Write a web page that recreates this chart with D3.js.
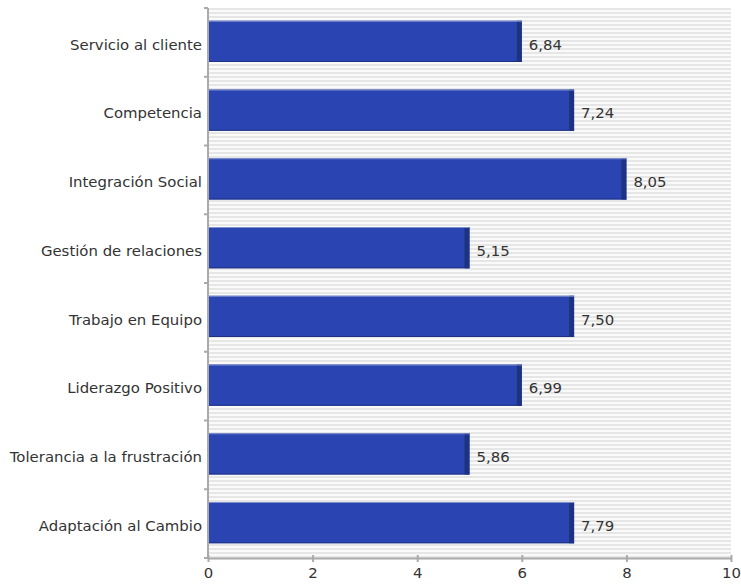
<!DOCTYPE html>
<html>
<head>
<meta charset="utf-8">
<script src="https://cdn.jsdelivr.net/npm/d3@7/dist/d3.min.js"></script>
<style>
  body { margin: 0; background: #fff; }
  text { font-family: "DejaVu Sans", sans-serif; fill: #333; }
</style>
</head>
<body>
<script>
var categories = ["Servicio al cliente", "Competencia", "Integración Social", "Gestión de relaciones",
  "Trabajo en Equipo", "Liderazgo Positivo", "Tolerancia a la frustración", "Adaptación al Cambio"];
// values shown as labels
var scores = [6.84, 7.24, 8.05, 5.15, 7.50, 6.99, 5.86, 7.79];
// bar lengths as drawn in the picture
var barValues = [6, 7, 8, 5, 7, 6, 5, 7];
var xTicks = [0, 2, 4, 6, 8, 10];

var svgWidth = 741, svgHeight = 586;
var margin = {top: 8, right: 10, bottom: 28, left: 208};
var width = svgWidth - margin.left - margin.right;
var height = svgHeight - margin.top - margin.bottom;
var fontSize = "14.9px";

var svg = d3.select("body").append("svg")
  .attr("width", svgWidth)
  .attr("height", svgHeight);

var defs = svg.append("defs");
var pat = defs.append("pattern")
  .attr("id", "stripes")
  .attr("width", 4).attr("height", 4)
  .attr("patternUnits", "userSpaceOnUse");
pat.append("rect").attr("width", 4).attr("height", 4).attr("fill", "#fafafa");
pat.append("rect").attr("width", 4).attr("height", 2).attr("fill", "#e6e6e6");

var chartGroup = svg.append("g")
  .attr("transform", "translate(" + margin.left + "," + margin.top + ")");

chartGroup.append("rect")
  .attr("width", width).attr("height", height)
  .attr("fill", "url(#stripes)");

var x = d3.scaleLinear().domain([0, 10]).range([0, width]);
var y = d3.scaleBand().domain(categories).range([0, height]).paddingInner(0.4).paddingOuter(0.2);
var yEdges = d3.scaleLinear().domain([0, categories.length]).range([0, height]);

// bars
var bars = chartGroup.selectAll(".bar")
  .data(categories)
  .enter().append("g")
  .attr("class", "bar")
  .attr("transform", "translate(0,-1)");

bars.append("rect")
  .attr("x", 0)
  .attr("y", d => y(d))
  .attr("width", (d, i) => x(barValues[i]))
  .attr("height", y.bandwidth())
  .attr("fill", "#2a45b1");

bars.append("rect")
  .attr("x", (d, i) => x(barValues[i]) - 5)
  .attr("y", d => y(d))
  .attr("width", 5)
  .attr("height", y.bandwidth())
  .attr("fill", "#1e3282");

bars.append("line")
  .attr("x1", 0).attr("x2", (d, i) => x(barValues[i]))
  .attr("y1", d => y(d) + 0.5).attr("y2", d => y(d) + 0.5)
  .attr("stroke", "#7f8fcf").attr("stroke-width", 1);
bars.append("line")
  .attr("x1", 0).attr("x2", (d, i) => x(barValues[i]))
  .attr("y1", d => y(d) + y.bandwidth() - 0.5).attr("y2", d => y(d) + y.bandwidth() - 0.5)
  .attr("stroke", "#1e3282").attr("stroke-width", 1);

bars.append("text")
  .attr("x", (d, i) => x(barValues[i]) + 7)
  .attr("y", d => y(d) + y.bandwidth() / 2 + 3)
  .attr("dy", "0.35em")
  .attr("font-size", fontSize)
  .text((d, i) => d3.format(".2f")(scores[i]).replace(".", ","));

// left axis
chartGroup.append("line")
  .attr("x1", 0).attr("x2", 0).attr("y1", 0).attr("y2", height)
  .attr("stroke", "#aaa").attr("stroke-width", 2);
chartGroup.selectAll(".ytick")
  .data(d3.range(categories.length + 1))
  .enter().append("line")
  .attr("x1", -4).attr("x2", 0)
  .attr("y1", d => yEdges(d)).attr("y2", d => yEdges(d))
  .attr("stroke", "#aaa").attr("stroke-width", 2);
chartGroup.selectAll(".ylabel")
  .data(categories)
  .enter().append("text")
  .attr("x", -6)
  .attr("y", d => y(d) + y.bandwidth() / 2 + 2)
  .attr("dy", "0.35em")
  .attr("text-anchor", "end")
  .attr("font-size", fontSize)
  .text(d => d);

// bottom axis
var bottomAxis = d3.axisBottom(x).tickValues(xTicks).tickSize(4).tickSizeOuter(0).tickPadding(5);
var xg = chartGroup.append("g")
  .attr("transform", "translate(0," + height + ")")
  .call(bottomAxis);
xg.select(".domain").attr("stroke", "#aaa").attr("stroke-width", 2);
xg.selectAll(".tick line").attr("stroke", "#aaa").attr("stroke-width", 2).attr("y1", -3);
xg.selectAll(".tick text").attr("font-size", fontSize).attr("font-family", "DejaVu Sans, sans-serif").attr("fill", "#333");
</script>
</body>
</html>
